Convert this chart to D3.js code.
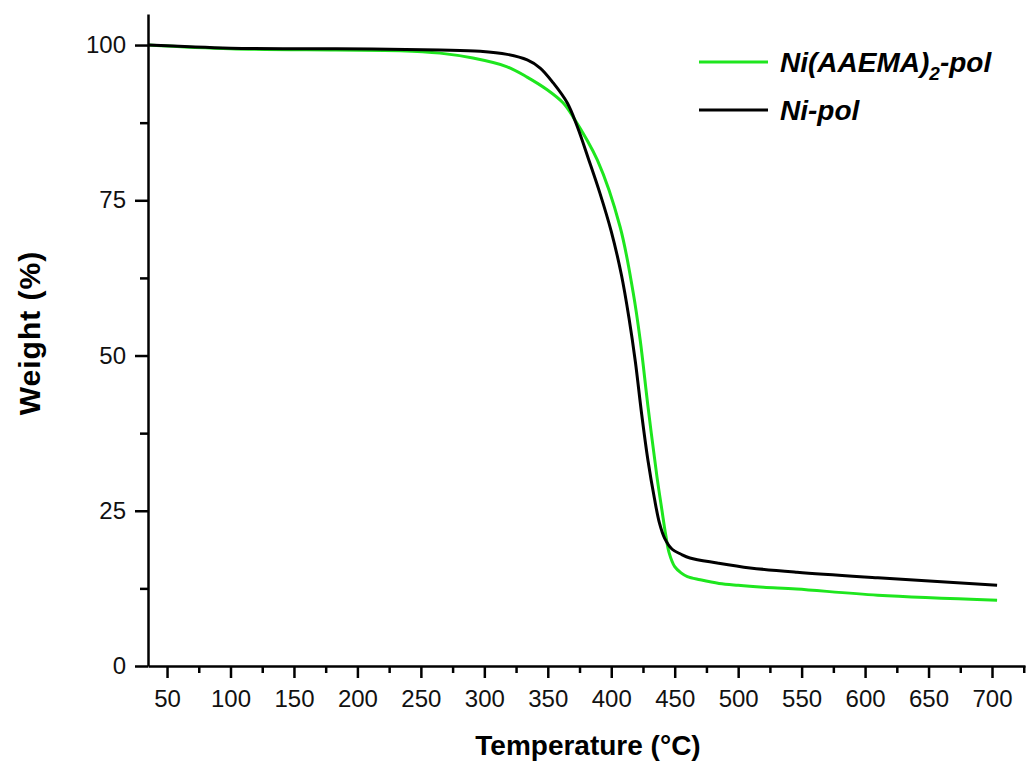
<!DOCTYPE html>
<html>
<head>
<meta charset="utf-8">
<script src="https://cdn.jsdelivr.net/npm/d3@7"></script>
<style>
  html, body { margin: 0; padding: 0; background: #fff; }
  svg { display: block; }
  text { font-family: "Liberation Sans", Arial, sans-serif; }
</style>
</head>
<body>
<svg id="chart" width="1027" height="764"></svg>
<script>
// ---- Data ----
const seriesNames = ["Ni(AAEMA)2-pol", "Ni-pol"];
const seriesColors = ["#1ee61e", "#000000"];

const greenTemp = [35, 100, 183, 234, 265, 291, 318, 334, 349.5, 362, 370, 389, 407, 417.3, 422.8, 429, 436, 440, 443, 445.5, 450, 455, 460, 470, 485, 500, 520, 546, 610, 704];
const greenWeight = [100, 99.4, 99.2, 99.1, 98.7, 97.9, 96.5, 94.8, 92.8, 90.7, 88.4, 81.5, 70.7, 60.1, 52.5, 41.7, 30.5, 25, 21, 18.3, 16, 15.0, 14.4, 13.9, 13.3, 13.0, 12.7, 12.4, 11.4, 10.6];

const blackTemp = [35, 100, 183, 265, 296.7, 318, 333.8, 344, 354.3, 365.3, 373, 382, 391, 400, 408, 414, 419, 424, 429, 434, 438, 442, 448, 455, 462, 483.5, 509.4, 546.4, 610, 704];
const blackWeight = [100, 99.5, 99.4, 99.2, 99.0, 98.5, 97.6, 96.3, 93.9, 90.7, 87, 81.7, 76.2, 70, 63, 56, 49, 40.5, 33, 27, 23, 20.6, 18.8, 18.0, 17.4, 16.6, 15.8, 15.1, 14.2, 13.0];

const xMajorTicks = [50, 100, 150, 200, 250, 300, 350, 400, 450, 500, 550, 600, 650, 700];
const xMinorTicks = [75, 125, 175, 225, 275, 325, 375, 425, 475, 525, 575, 625, 675, 725];
const yMajorTicks = [0, 25, 50, 75, 100];
const yMinorTicks = [12.5, 37.5, 62.5, 87.5];

const xLabel = "Temperature (°C)";
const yLabel = "Weight (%)";

// ---- Chart ----
const svg = d3.select("#chart");
const x = d3.scaleLinear().domain([35, 726]).range([148, 1025]);
const y = d3.scaleLinear().domain([0, 105]).range([666, 14]);

const series = [
  { name: seriesNames[0], color: seriesColors[0], pts: greenTemp.map((t, i) => [t, greenWeight[i]]) },
  { name: seriesNames[1], color: seriesColors[1], pts: blackTemp.map((t, i) => [t, blackWeight[i]]) }
];

const line = d3.line().x(d => x(d[0])).y(d => y(d[1])).curve(d3.curveCatmullRom.alpha(0.5));

series.forEach(s => {
  svg.append("path")
    .attr("d", line(s.pts))
    .attr("fill", "none")
    .attr("stroke", s.color)
    .attr("stroke-width", 3)
    .attr("stroke-linejoin", "round");
});

// Axes
const axisW = 2.5;
const gx = svg.append("g").attr("transform", `translate(0,${y(0)})`)
  .call(d3.axisBottom(x).tickValues(xMajorTicks).tickSize(12).tickSizeOuter(0).tickPadding(12).tickFormat(d3.format("d")));
const gxm = svg.append("g").attr("transform", `translate(0,${y(0)})`)
  .call(d3.axisBottom(x).tickValues(xMinorTicks).tickSize(7).tickSizeOuter(0).tickFormat(""));
gxm.select(".domain").remove();

const gy = svg.append("g").attr("transform", `translate(${x(35)},0)`)
  .call(d3.axisLeft(y).tickValues(yMajorTicks).tickSize(13).tickSizeOuter(0).tickPadding(9).tickFormat(d3.format("d")));
const gym = svg.append("g").attr("transform", `translate(${x(35)},0)`)
  .call(d3.axisLeft(y).tickValues(yMinorTicks).tickSize(8).tickSizeOuter(0).tickFormat(""));
gym.select(".domain").remove();

[gx, gxm, gy, gym].forEach(g => {
  g.selectAll("path, line").attr("stroke", "#000").attr("stroke-width", axisW);
  g.selectAll("text").attr("font-size", 24).attr("fill", "#111")
    .attr("font-family", "'Liberation Sans', Arial, sans-serif");
});

// Axis titles
svg.append("text")
  .attr("x", 588).attr("y", 755)
  .attr("text-anchor", "middle")
  .attr("font-size", 28).attr("font-weight", "bold")
  .text(xLabel);

svg.append("text")
  .attr("transform", "translate(40,333) rotate(-90)")
  .attr("text-anchor", "middle")
  .attr("font-size", 30).attr("font-weight", "bold")
  .attr("letter-spacing", 1)
  .text(yLabel);

// Legend
const legend = svg.append("g");
const legendRows = [62, 110];
series.forEach((s, i) => {
  legend.append("line")
    .attr("x1", 699).attr("x2", 768)
    .attr("y1", legendRows[i]).attr("y2", legendRows[i])
    .attr("stroke", s.color).attr("stroke-width", 3);
  const t = legend.append("text")
    .attr("x", 780).attr("y", legendRows[i] + 10)
    .attr("font-size", 28).attr("font-weight", "bold").attr("font-style", "italic");
  const m = s.name.match(/^(.*\))(\d)(.*)$/);
  if (m) {
    t.append("tspan").text(m[1]);
    t.append("tspan").attr("font-size", 19).attr("dy", 8).text(m[2]);
    t.append("tspan").attr("dy", -8).text(m[3]);
  } else {
    t.text(s.name);
  }
});
</script>
</body>
</html>
